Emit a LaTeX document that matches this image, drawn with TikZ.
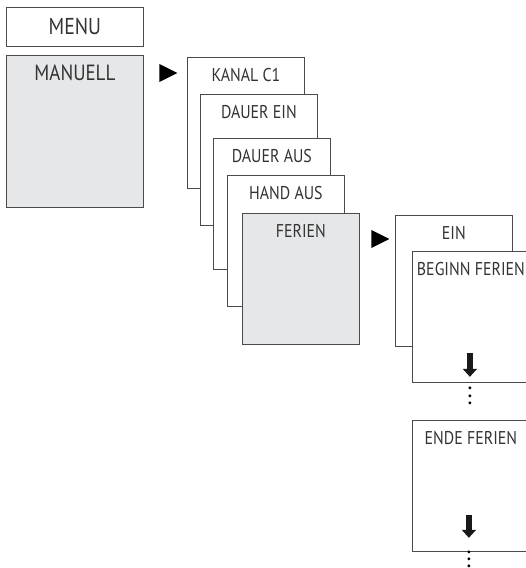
\documentclass[tikz,border=0pt]{standalone}
\usepackage{fontspec}
\setmainfont[FakeStretch=0.86]{PT Sans}
\usepackage{tikz}
\usetikzlibrary{shapes.geometric}
\usetikzlibrary{arrows.meta}
\definecolor{screengray}{HTML}{E6E7E9}
\definecolor{framegray}{HTML}{4A4A4A}
\definecolor{textgray}{HTML}{333333}
\tikzset{
  screen/.style={draw=framegray, line width=0.8pt, fill=white, anchor=north west,
    minimum width=117pt, minimum height=131pt, inner sep=0pt},
  caption/.style={anchor=north, inner sep=0pt, yshift=-11pt, text=textgray,
    font=\fontsize{18.5}{20}\selectfont},
  pointer/.style={isosceles triangle, isosceles triangle stretches, fill=black,
    inner sep=0pt, minimum width=18pt, minimum height=18pt},
  down/.style={line width=6.5pt, black!90, -{Triangle[width=14pt,length=8pt]}}
}

\begin{document}
\begin{tikzpicture}[x=1pt, y=1pt]
\useasboundingbox (0, 0) rectangle (526, -568);
\node[screen, minimum width=137pt, minimum height=39pt, text=textgray,
  font=\fontsize{23}{24}\selectfont] (menu) at (6, -7) {MENU};
\node[screen, fill=screengray, minimum width=137pt, minimum height=152pt,
  label={[caption, yshift=1pt, font=\fontsize{22}{24}\selectfont]north:MANUELL}] (manuell) at (6, -55) {};
\node[pointer] (p1) at (165, -73) {};
\node[screen, label={[caption]north:KANAL C1}] (kanal) at (187, -57) {};
\node[screen, label={[caption]north:DAUER EIN}] (dauerein) at (200, -94) {};
\node[screen, label={[caption]north:DAUER AUS}] (daueraus) at (213, -138) {};
\node[screen, label={[caption]north:HAND AUS}] (handaus) at (227, -175) {};
\node[screen, fill=screengray, label={[caption]north:FERIEN}] (ferien) at (242, -213) {};
\node[pointer] (p2) at (377, -239) {};
\node[screen, label={[caption]north:EIN}] (ein) at (395, -215) {};
\node[screen, label={[caption]north:BEGINN FERIEN}] (beginn) at (412, -251) {};
\node[screen, label={[caption]north:ENDE FERIEN}] (ende) at (412, -420) {};
\draw[down] ([xshift=-1pt, yshift=30pt]beginn.south) -- ([xshift=-1pt, yshift=6pt]beginn.south);
\draw[down] ([xshift=-2pt, yshift=37pt]ende.south) -- ([xshift=-2pt, yshift=14pt]ende.south);
\foreach \d in {5, 13, 20}
  \fill ([xshift=-1pt, yshift=-\d pt]beginn.south) circle (1.6pt);
\foreach \d in {0, 7, 14}
  \fill ([xshift=-2pt, yshift=-\d pt]ende.south) circle (1.6pt);
\end{tikzpicture}
\end{document}
